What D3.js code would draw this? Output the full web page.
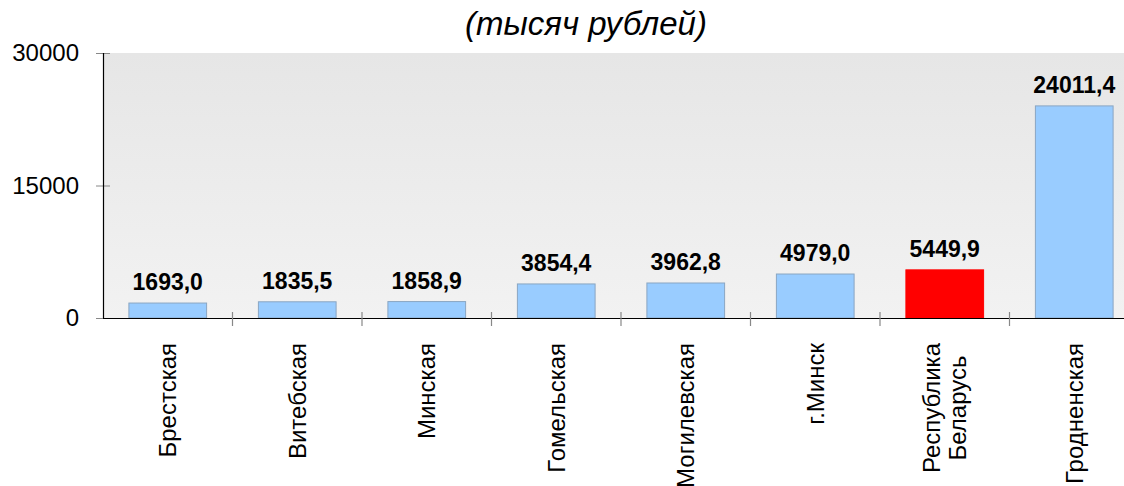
<!DOCTYPE html>
<html><head><meta charset="utf-8">
<script src="https://cdn.jsdelivr.net/npm/d3@7"></script>
<style>
html,body{margin:0;padding:0;background:#fff;overflow:hidden}
svg{display:block;font-family:Arial,"Liberation Sans",sans-serif}
</style></head>
<body>
<svg id="chart" width="1124" height="486"></svg>
<script>
const categories = [["Брестская"],["Витебская"],["Минская"],["Гомельская"],["Могилевская"],["г.Минск"],["Республика","Беларусь"],["Гродненская"]];
const values = [1693.0, 1835.5, 1858.9, 3854.4, 3962.8, 4979.0, 5449.9, 24011.4];
const highlight = [false,false,false,false,false,false,true,false];
const yTicks = [0, 15000, 30000];
const title = "(тысяч рублей)";

(function(){
const svg = d3.select("#chart");
const pL = 103, pR = 1139, pT = 53, pB = 318;

const defs = svg.append("defs");
const grad = defs.append("linearGradient").attr("id","bg").attr("x1",0).attr("y1",0).attr("x2",0).attr("y2",1);
grad.append("stop").attr("offset","0%").attr("stop-color","#e6e6e6");
grad.append("stop").attr("offset","100%").attr("stop-color","#f2f2f2");

svg.append("rect").attr("x",pL).attr("y",pT).attr("width",pR-pL).attr("height",pB-pT).attr("fill","url(#bg)");

const idx = values.map((d,i)=>i);
const x = d3.scaleBand().domain(idx).range([pL,pR]).paddingInner(0.4).paddingOuter(0.2);
const y = d3.scaleLinear().domain([0,30000]).range([pB,pT]);

// bars
svg.append("g").selectAll("rect").data(idx).join("rect")
  .attr("x",i=>x(i)).attr("width",x.bandwidth())
  .attr("y",i=>y(values[i])).attr("height",i=>y(0)-y(values[i]))
  .attr("fill",i=>highlight[i]?"#ff0000":"#99ccff")
  .attr("stroke",i=>highlight[i]?"#ff0000":"#8aa6c2").attr("stroke-width",1);

// value labels
const fmt = v => v.toFixed(1).replace(".",",");
svg.append("g").selectAll("text").data(idx).join("text")
  .attr("x",i=>x(i)+x.bandwidth()/2).attr("y",i=>y(values[i])-13)
  .attr("text-anchor","middle").attr("font-weight","bold").attr("font-size","23px").attr("fill","#000")
  .text(i=>fmt(values[i]));

// y axis
const yAxis = d3.axisLeft(y).tickValues(yTicks).tickSize(0).tickPadding(24).tickFormat(d=>String(d));
const gy = svg.append("g").attr("transform",`translate(${pL},0)`).call(yAxis);
gy.select(".domain").remove();
gy.selectAll("text").attr("font-size","24px").attr("fill","#000").attr("font-family",'Arial,"Liberation Sans",sans-serif');
gy.selectAll(".tick").append("line").attr("x1",-7).attr("x2",7).attr("stroke","#888").attr("stroke-width",1);
svg.append("line").attr("x1",pL+0.5).attr("x2",pL+0.5).attr("y1",pT).attr("y2",pB).attr("stroke","#000").attr("stroke-width",1.2);

// x axis
svg.append("line").attr("x1",pL).attr("x2",pR).attr("y1",pB+0.5).attr("y2",pB+0.5).attr("stroke","#000").attr("stroke-width",1.2);
const step = x.step();
const bounds = d3.range(1,8).map(k=>pL+k*step);
svg.append("g").selectAll("line").data(bounds).join("line")
  .attr("x1",d=>d).attr("x2",d=>d).attr("y1",pB-6).attr("y2",pB+8)
  .attr("stroke","#888").attr("stroke-width",1.2);

// category labels
const catG = svg.append("g");
idx.forEach(i=>{
  const lines = categories[i];
  const cx = x(i)+x.bandwidth()/2;
  const g = catG.append("g");
  const texts = lines.map((t,k)=> g.append("text").attr("font-size","24px").attr("fill","#000").attr("text-anchor","middle").text(t));
  const maxLen = d3.max(texts, t=>t.node().getComputedTextLength());
  const cy = 343 + maxLen/2;
  const n = lines.length;
  texts.forEach((t,k)=>{
    const lx = cx + (k-(n-1)/2)*26 + 8.4;
    t.attr("transform",`translate(${lx},${cy}) rotate(-90)`);
  });
});

// title
svg.append("text").attr("x",586).attr("y",35).attr("text-anchor","middle")
  .attr("font-size","33px").attr("font-style","italic").attr("fill","#000").text(title);
})();
</script>
</body></html>
